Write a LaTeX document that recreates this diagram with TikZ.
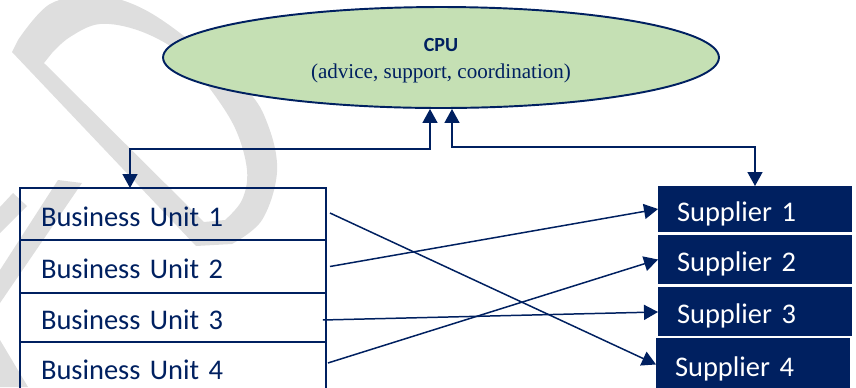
\documentclass[tikz,border=0pt]{standalone}
\usepackage{fontspec}
\usepackage{tikz}
\usetikzlibrary{
  shapes.geometric,
  arrows.meta,
  positioning, calc
}
\newfontfamily\calibri{Carlito}
\newfontfamily\timesrm{Liberation Serif}
\definecolor{navyblue}{RGB}{0,32,96}
\definecolor{cpugreen}{RGB}{197,224,180}
\definecolor{wmgray}{RGB}{222,222,222}
\tikzset{
  cpunode/.style={ellipse,draw=navyblue,line width=1.1pt,fill=cpugreen,minimum width=11.12cm,minimum height=2.02cm,align=center,text=navyblue},
  bunode/.style={rectangle,draw=navyblue,line width=1.1pt,outer sep=0pt,minimum width=6.12cm,inner xsep=0.42cm,text width=5.28cm,align=left,text height=0.48cm,text depth=0pt,text=navyblue,font=\calibri\fontsize{16.2}{19}\selectfont},
  supnode/.style={rectangle,fill=navyblue,outer sep=0pt,minimum width=3.88cm,inner xsep=0.38cm,text width=3.12cm,align=left,text height=0.48cm,text depth=0pt,text=white,font=\calibri\fontsize{16.2}{19}\selectfont},
  arr/.style={-{Triangle[length=0.28cm,width=0.3cm]},line width=0.85pt,draw=navyblue},
  dblarr/.style={{Triangle[length=0.28cm,width=0.3cm]}-{Triangle[length=0.28cm,width=0.3cm]},line width=0.85pt,draw=navyblue},
  wmark/.style={fill=wmgray,draw=none}
}

\begin{document}
\begin{tikzpicture}[x=0.02cm,y=-0.02cm]
  \useasboundingbox (0,0) rectangle (856,387);

  %% watermark letters in the back
  \fill[wmark,even odd rule]
    (12,52) -- (196,246) -- plot[smooth,tension=0.6] coordinates
      {(232,244) (262,220) (277,172) (268,125) (245,88) (180,33) (135,5) (95,-4) (50,4) (18,40)} -- cycle
    (44,63) -- (204,222) -- plot[smooth,tension=0.6] coordinates
      {(225,220) (242,200) (247,170) (235,128) (208,86) (180,53) (140,31) (100,24) (70,37) (52,53)} -- cycle;
  \fill[wmark] (0,207) -- (13,193) -- (27,206) -- (0,233) -- cycle;
  \fill[wmark] (58,180) -- (82,183) -- (0,303) -- (0,270) -- cycle;
  \fill[wmark] (0,340) -- (28,387) -- (0,387) -- cycle;

  %% CPU
  \node[cpunode] (cpu) at (441,57.5)
    {{\calibri\bfseries\fontsize{11.4}{14}\selectfont\rule{0pt}{0.38cm}CPU}\\[0.12cm]
     {\timesrm\fontsize{12}{14}\selectfont (advice, support, coordination)}};

  %% business units
  \node[bunode,minimum height=1.04cm] (bu1) at (173,214) {Business Unit 1};
  \node[bunode,minimum height=1.06cm,below=0pt of bu1] (bu2) {Business Unit 2};
  \node[bunode,minimum height=0.98cm,below=0pt of bu2] (bu3) {Business Unit 3};
  \node[bunode,minimum height=1.04cm,below=0pt of bu3] (bu4) {Business Unit 4};

  %% suppliers
  \node[supnode,minimum height=0.92cm] (sup1) at (755,209) {Supplier 1};
  \node[supnode,minimum height=1.0cm,below=0.05cm of sup1] (sup2) {Supplier 2};
  \node[supnode,minimum height=0.98cm,below=0.06cm of sup2] (sup3) {Supplier 3};
  \node[supnode,minimum height=1.04cm,below=0.04cm of sup3,xshift=-0.04cm] (sup4) {Supplier 4};

  %% Arrows
  \draw[dblarr] ($(cpu.south)+(-11,0)$) -- ++(0,40) -| ($(bu1.north)+(-43,0)$);
  \draw[dblarr] ($(cpu.south)+(11,0)$) -- ++(0,38) -| (sup1.north);
  \draw[arr] ($(bu1.east)+(4,-1)$) -- (sup4.west);
  \draw[arr] ($(bu2.east)+(4,0)$) -- (sup1.west);
  \draw[arr] ($(bu3.east)+(-3,2.5)$) -- (sup3.west);
  \draw[arr] ($(bu4.east)+(2,-5)$) -- (sup2.west);
\end{tikzpicture}
\end{document}
